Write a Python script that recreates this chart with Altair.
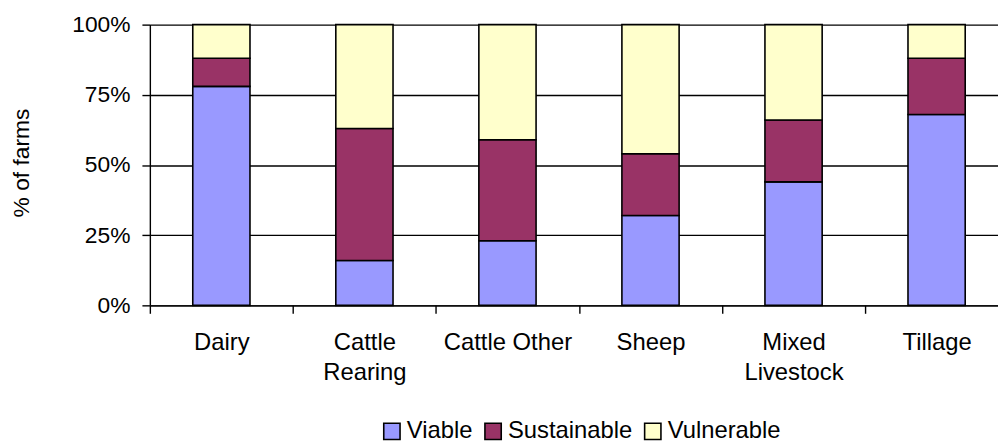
import altair as alt
import pandas as pd

categories = ["Dairy", "Cattle Rearing", "Cattle Other", "Sheep", "Mixed Livestock", "Tillage"]
series = ["Viable", "Sustainable", "Vulnerable"]
viable = [78, 16, 23, 32, 44, 68]
sustainable = [10, 47, 36, 22, 22, 20]
vulnerable = [12, 37, 41, 46, 34, 12]
colors = ["#9999FF", "#993366", "#FFFFCC"]
y_ticks = [0, 25, 50, 75, 100]

rows = []
for i, c in enumerate(categories):
    for j, vals in enumerate([viable, sustainable, vulnerable]):
        rows.append({"category": c, "series": series[j], "idx": j, "value": vals[i]})
df = pd.DataFrame(rows)

FONT = "Liberation Sans"
W = 855
N = len(categories)
PAD_INNER = 0.6
STEP = 144.2  # category spacing (the original plot extends past the right edge)
PAD_OUTER = (W / STEP - (N - PAD_INNER)) / 2
ALIGN = (PAD_INNER / 2) / (2 * PAD_OUTER)

chart = alt.Chart(df).mark_bar(stroke="black", strokeWidth=1.6).encode(
    x=alt.X(
        "category:N",
        sort=categories,
        scale=alt.Scale(paddingInner=PAD_INNER, paddingOuter=PAD_OUTER, align=ALIGN),
        axis=alt.Axis(
            title=None,
            labelAngle=0,
            ticks=True,
            tickOffset=-STEP / 2,
            labelOffset=STEP / 2,
            grid=False,
            domainColor="black",
            domainWidth=1.4,
            tickColor="black",
            tickWidth=1.4,
            tickSize=8,
            labelFontSize=24,
            labelColor="black",
            labelPadding=18,
            labelBaseline="top",
            labelAlign="center",
            labelLineHeight=30,
            labelExpr="datum.label == 'Cattle Other' ? datum.label : split(datum.label, ' ')",
        ),
    ),
    y=alt.Y(
        "value:Q",
        stack="zero",
        scale=alt.Scale(domain=[0, 100], nice=False),
        axis=alt.Axis(
            title="% of farms",
            values=y_ticks,
            labelExpr="datum.value + '%'",
            domainColor="black",
            domainWidth=1.4,
            tickColor="black",
            tickWidth=1.4,
            tickSize=8,
            gridColor="black",
            gridWidth=1.4,
            gridOpacity=1,
            labelFontSize=23,
            labelColor="black",
            labelPadding=12,
            titleFontSize=23,
            titleFontWeight="normal",
            titleColor="black",
            titleX=-129,
            titleY=139,
            titleAngle=270,
            titleAlign="center",
            titleBaseline="middle",
        ),
    ),
    color=alt.Color(
        "series:N",
        sort=series,
        scale=alt.Scale(domain=series, range=colors),
        legend=alt.Legend(
            title=None,
            orient="none",
            legendX=232,
            legendY=398,
            direction="horizontal",
            symbolType="square",
            symbolSize=270,
            symbolStrokeColor="black",
            symbolStrokeWidth=1.6,
            symbolOpacity=1,
            labelFontSize=24,
            labelColor="black",
            labelOffset=3,
            columnPadding=8,
        ),
    ),
    order=alt.Order("idx:Q", sort="ascending"),
).properties(
    width=W,
    height=283,
    autosize=alt.AutoSizeParams(type="none"),
    padding={"left": 143, "top": 15, "right": 0, "bottom": 137},
).configure(font=FONT).configure_view(stroke=None)

chart.save("out.html", embed_options={"renderer": "svg", "actions": False})
